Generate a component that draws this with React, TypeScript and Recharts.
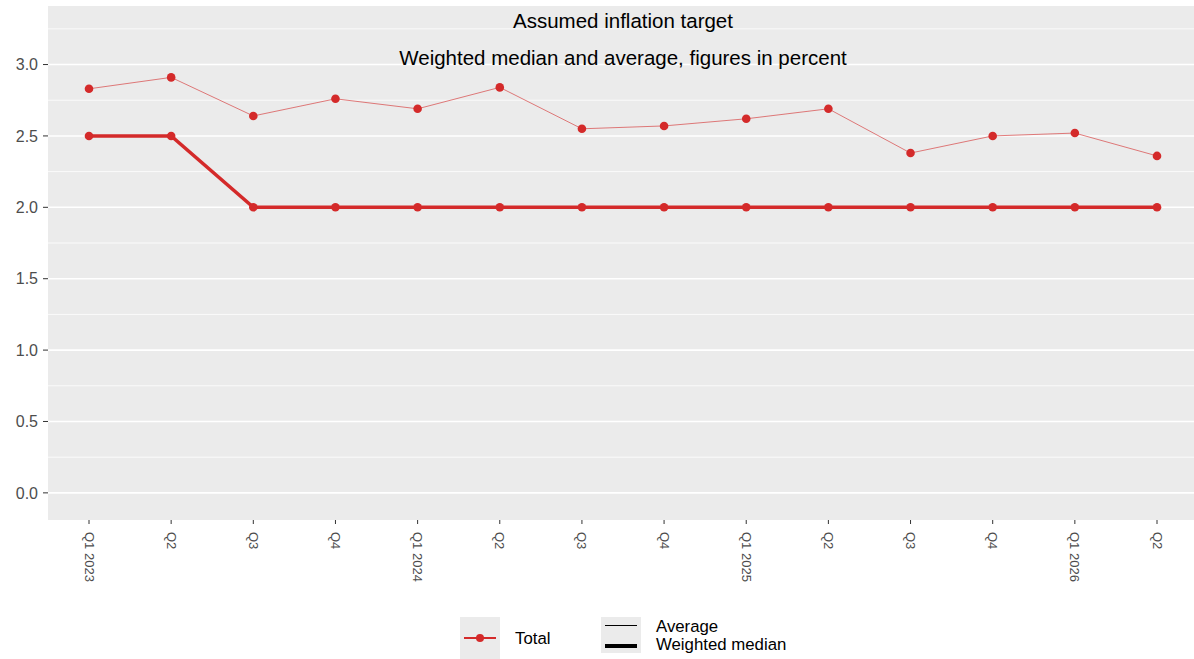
import React from "react"
import { LineChart, Line, XAxis, YAxis, CartesianGrid, ReferenceLine } from "recharts"

const quarters = ["Q1 2023", "Q2", "Q3", "Q4", "Q1 2024", "Q2", "Q3", "Q4", "Q1 2025", "Q2", "Q3", "Q4", "Q1 2026", "Q2"]
const average = [2.83, 2.91, 2.64, 2.76, 2.69, 2.84, 2.55, 2.57, 2.62, 2.69, 2.38, 2.5, 2.52, 2.36]
const weightedMedian = [2.5, 2.5, 2.0, 2.0, 2.0, 2.0, 2.0, 2.0, 2.0, 2.0, 2.0, 2.0, 2.0, 2.0]
const majorTicks = [0, 0.5, 1, 1.5, 2, 2.5, 3]
const minorTicks = [0.25, 0.75, 1.25, 1.75, 2.25, 2.75, 3.25]

const data = quarters.map((q, i) => ({ key: i, label: q, average: average[i], median: weightedMedian[i] }))

const RED = "#D42A2A"
const FONT = "'Liberation Sans', Arial, sans-serif"

function QuarterTick(props: any) {
  const { x, y, payload } = props
  return (
    <g transform={`translate(${x},${y})`}>
      <text
        transform="rotate(90)"
        x={6}
        y={0}
        dy={4.5}
        textAnchor="start"
        fontSize={13}
        fontFamily={FONT}
        fill="#4d4d4d"
      >
        {quarters[payload.value]}
      </text>
    </g>
  )
}

export default function App() {
  return (
    <div style={{ position: "absolute", left: 0, top: 0, width: 1194, height: 659, background: "#fff", fontFamily: FONT }}>
      <LineChart width={1194} height={659} data={data} margin={{ top: 6, right: 0, left: 0, bottom: 0 }}>
        <CartesianGrid
          fill="#EBEBEB"
          vertical={false}
          stroke="#ffffff"
          strokeWidth={0.8}
          horizontalValues={minorTicks}
        />
        {majorTicks.map((t) => (
          <ReferenceLine key={t} y={t} stroke="#ffffff" strokeWidth={1.6} />
        ))}
        <XAxis
          dataKey="key"
          type="category"
          scale="point"
          padding={{ left: 41, right: 37 }}
          height={139}
          axisLine={false}
          tickLine={{ stroke: "#333333" }}
          tickSize={4}
          tick={<QuarterTick />}
          interval={0}
        />
        <YAxis
          domain={[-0.19, 3.41]}
          ticks={majorTicks}
          width={48}
          axisLine={false}
          tickLine={{ stroke: "#333333" }}
          tickSize={5}
          tickMargin={5}
          tickFormatter={(v: number) => v.toFixed(1)}
          tick={{ fontSize: 16, fill: "#4d4d4d", fontFamily: FONT }}
          allowDataOverflow
        />
        <Line
          dataKey="average"
          stroke={RED}
          strokeOpacity={0.6}
          strokeWidth={1}
          dot={{ r: 4.3, fill: RED, stroke: RED, strokeWidth: 0, fillOpacity: 1 }}
          activeDot={false}
          isAnimationActive={false}
        />
        <Line
          dataKey="median"
          stroke={RED}
          strokeWidth={3.5}
          dot={{ r: 4.3, fill: RED, stroke: RED, strokeWidth: 0 }}
          activeDot={false}
          isAnimationActive={false}
        />
      </LineChart>

      <div style={{ position: "absolute", left: 0, width: 1246, top: 9, textAlign: "center", fontSize: 20.5, color: "#000" }}>
        Assumed inflation target
      </div>
      <div style={{ position: "absolute", left: 0, width: 1246, top: 46, textAlign: "center", fontSize: 20.5, color: "#000" }}>
        Weighted median and average, figures in percent
      </div>

      <div style={{ position: "absolute", left: 460, top: 617, width: 40, height: 42, background: "#EBEBEB" }}>
        <div style={{ position: "absolute", left: 4, right: 4, top: 20, height: 2, background: RED }} />
        <div style={{ position: "absolute", left: 16, top: 17, width: 8, height: 8, borderRadius: 4, background: RED }} />
      </div>
      <div style={{ position: "absolute", left: 515, top: 629, fontSize: 16.8, color: "#000" }}>Total</div>

      <div style={{ position: "absolute", left: 601, top: 617, width: 40, height: 36, background: "#EBEBEB" }}>
        <div style={{ position: "absolute", left: 4, right: 4, top: 8, height: 1, background: "#000" }} />
        <div style={{ position: "absolute", left: 4, right: 4, top: 27, height: 3.5, background: "#000" }} />
      </div>
      <div style={{ position: "absolute", left: 656, top: 618, fontSize: 16.8, color: "#000", lineHeight: "18px" }}>
        Average
        <br />
        Weighted median
      </div>
    </div>
  )
}
